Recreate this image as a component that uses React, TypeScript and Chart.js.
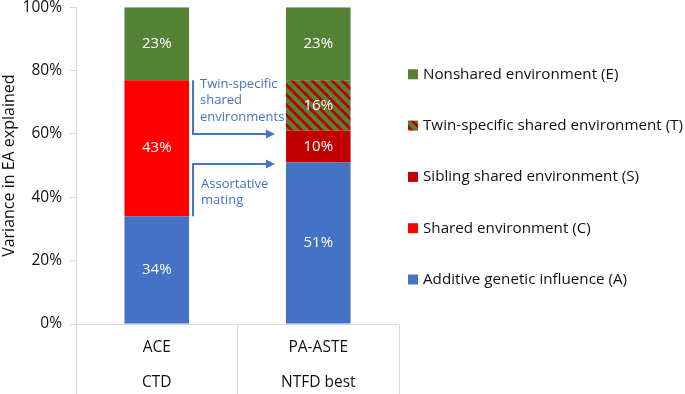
import React, { useEffect, useRef } from "react";
import { Chart, registerables } from "chart.js";

Chart.register(...registerables);

// ---------- data ----------
const categories = [["ACE", "CTD"], ["PA-ASTE", "NTFD best"]];
const seriesNames = [
  "Additive genetic influence (A)",
  "Shared environment (C)",
  "Sibling shared environment (S)",
  "Twin-specific shared environment (T)",
  "Nonshared environment (E)",
];
const additiveA = [34, 51];
const sharedC = [43, 0];
const siblingS = [0, 10];
const twinT = [0, 16];
const nonsharedE = [23, 23];
const yTickStep = 20;
const yMax = 100;
const yTitle = "Variance in EA explained";
const twinArrowText = ["Twin-specific", "shared", "environments"];
const twinArrowRange = [77, 60];
const matingArrowText = ["Assortative", "mating"];
const matingArrowRange = [34, 50.5];

// ---------- style ----------
const FONT = "'Open Sans', 'Noto Sans', sans-serif";
const BLUE = "#4472C4";
const RED = "#FF0000";
const DARKRED = "#C00000";
const GREEN = "#548235";
const AXIS = "#D9D9D9";
const TEXT = "#111111";

function makeStripePattern(): CanvasPattern | string {
  const c = document.createElement("canvas");
  const n = 10;
  c.width = n;
  c.height = n;
  const ctx = c.getContext("2d");
  if (!ctx) return DARKRED;
  for (let y = 0; y < n; y++) {
    for (let x = 0; x < n; x++) {
      const k = (((x - y) % n) + n) % n;
      ctx.fillStyle = k < 4 ? DARKRED : GREEN;
      ctx.fillRect(x, y, 1, 1);
    }
  }
  const p = ctx.createPattern(c, "repeat");
  return p || DARKRED;
}

const valueLabelPlugin = {
  id: "valueLabels",
  afterDatasetsDraw(chart: any) {
    const ctx = chart.ctx;
    ctx.save();
    ctx.font = `15px ${FONT}`;
    ctx.fillStyle = "#ffffff";
    ctx.textAlign = "center";
    ctx.textBaseline = "middle";
    chart.data.datasets.forEach((ds: any, di: number) => {
      const meta = chart.getDatasetMeta(di);
      meta.data.forEach((el: any, i: number) => {
        const v = ds.data[i];
        if (!v) return;
        const { x, y, base } = el.getProps(["x", "y", "base"], true);
        ctx.fillText(`${v}%`, x, (y + base) / 2);
      });
    });
    ctx.restore();
  },
};

const arrowPlugin = {
  id: "arrows",
  afterDatasetsDraw(chart: any) {
    const ctx = chart.ctx;
    const yS = chart.scales.y;
    const meta = chart.getDatasetMeta(0);
    const b0 = meta.data[0].getProps(["x", "width"], true);
    const b1 = meta.data[1].getProps(["x", "width"], true);
    const vx = b0.x + b0.width / 2 + 4;
    const tip = b1.x - b1.width / 2 - 11;
    ctx.save();
    ctx.strokeStyle = BLUE;
    ctx.fillStyle = BLUE;
    ctx.lineWidth = 2;
    const drawArrow = (from: number, to: number) => {
      const y0 = yS.getPixelForValue(from);
      const y1 = yS.getPixelForValue(to);
      ctx.beginPath();
      ctx.moveTo(vx, y0);
      ctx.lineTo(vx, y1);
      ctx.lineTo(tip - 7, y1);
      ctx.stroke();
      ctx.beginPath();
      ctx.moveTo(tip, y1);
      ctx.lineTo(tip - 9, y1 - 4.5);
      ctx.lineTo(tip - 9, y1 + 4.5);
      ctx.closePath();
      ctx.fill();
    };
    drawArrow(twinArrowRange[0], twinArrowRange[1]);
    drawArrow(matingArrowRange[0], matingArrowRange[1]);
    ctx.font = `13px ${FONT}`;
    ctx.textAlign = "left";
    ctx.textBaseline = "middle";
    const tTop = yS.getPixelForValue(twinArrowRange[0]) + 4;
    twinArrowText.forEach((t, i) => ctx.fillText(t, vx + 7, tTop + i * 16.5));
    const mTop = yS.getPixelForValue(matingArrowRange[1]) + 20;
    matingArrowText.forEach((t, i) => ctx.fillText(t, vx + 8, mTop + i * 16.5));
    ctx.restore();
  },
};

const legendPlugin = {
  id: "sideLegend",
  afterDraw(chart: any) {
    const ctx = chart.ctx;
    const area = chart.chartArea;
    const x = area.right + 9;
    const y0 = area.top + 67;
    const step = 51.3;
    const items = chart.data.datasets.map((d: any) => d).reverse();
    ctx.save();
    ctx.font = `15.2px ${FONT}`;
    ctx.textBaseline = "middle";
    ctx.textAlign = "left";
    items.forEach((ds: any, i: number) => {
      const cy = y0 + i * step;
      ctx.fillStyle = ds.backgroundColor;
      ctx.fillRect(x, cy - 5, 10, 10);
      ctx.fillStyle = TEXT;
      ctx.fillText(ds.label, x + 15, cy);
    });
    ctx.restore();
  },
};

export default function App() {
  const ref = useRef<HTMLCanvasElement>(null);
  useEffect(() => {
    if (!ref.current) return;
    const pattern = makeStripePattern();
    const colors = [BLUE, RED, DARKRED, pattern, GREEN];
    const values = [additiveA, sharedC, siblingS, twinT, nonsharedE];
    const chart = new Chart(ref.current, {
      type: "bar",
      data: {
        labels: categories as any,
        datasets: seriesNames.map((name, i) => ({
          label: name,
          data: values[i],
          backgroundColor: colors[i] as any,
          borderWidth: 0,
          categoryPercentage: 1,
          barPercentage: 0.4,
        })),
      },
      options: {
        responsive: false,
        animation: false,
        events: [],
        layout: { padding: { right: 286, top: 0, left: 0, bottom: 0 } },
        plugins: { legend: { display: false }, tooltip: { enabled: false } },
        scales: {
          x: {
            stacked: true,
            grid: {
              offset: true,
              drawOnChartArea: false,
              tickLength: 70,
              color: AXIS,
              lineWidth: 1,
            },
            border: { color: AXIS },
            ticks: {
              padding: -63.5,
              color: TEXT,
              font: { family: FONT, size: 15.5, lineHeight: 35 / 15.5 },
              maxRotation: 0,
            },
            afterFit: (s: any) => {
              s.height = 70;
            },
          },
          y: {
            stacked: true,
            min: 0,
            max: yMax,
            ticks: {
              stepSize: yTickStep,
              padding: 8,
              color: TEXT,
              font: { family: FONT, size: 15.5 },
              callback: (v: any) => `${v}%`,
            },
            grid: { drawOnChartArea: false, tickLength: 6, color: AXIS },
            border: { color: AXIS },
            title: {
              display: true,
              text: yTitle,
              color: TEXT,
              font: { family: FONT, size: 16 },
              padding: 0,
            },
            afterFit: (s: any) => {
              s.width = 76;
            },
          },
        },
      },
      plugins: [valueLabelPlugin, arrowPlugin, legendPlugin],
    });
    return () => chart.destroy();
  }, []);
  return (
    <div style={{ position: "absolute", left: 0, top: -10, width: 685, height: 404, background: "#fff" }}>
      <canvas ref={ref} width={685} height={404} />
    </div>
  );
}
